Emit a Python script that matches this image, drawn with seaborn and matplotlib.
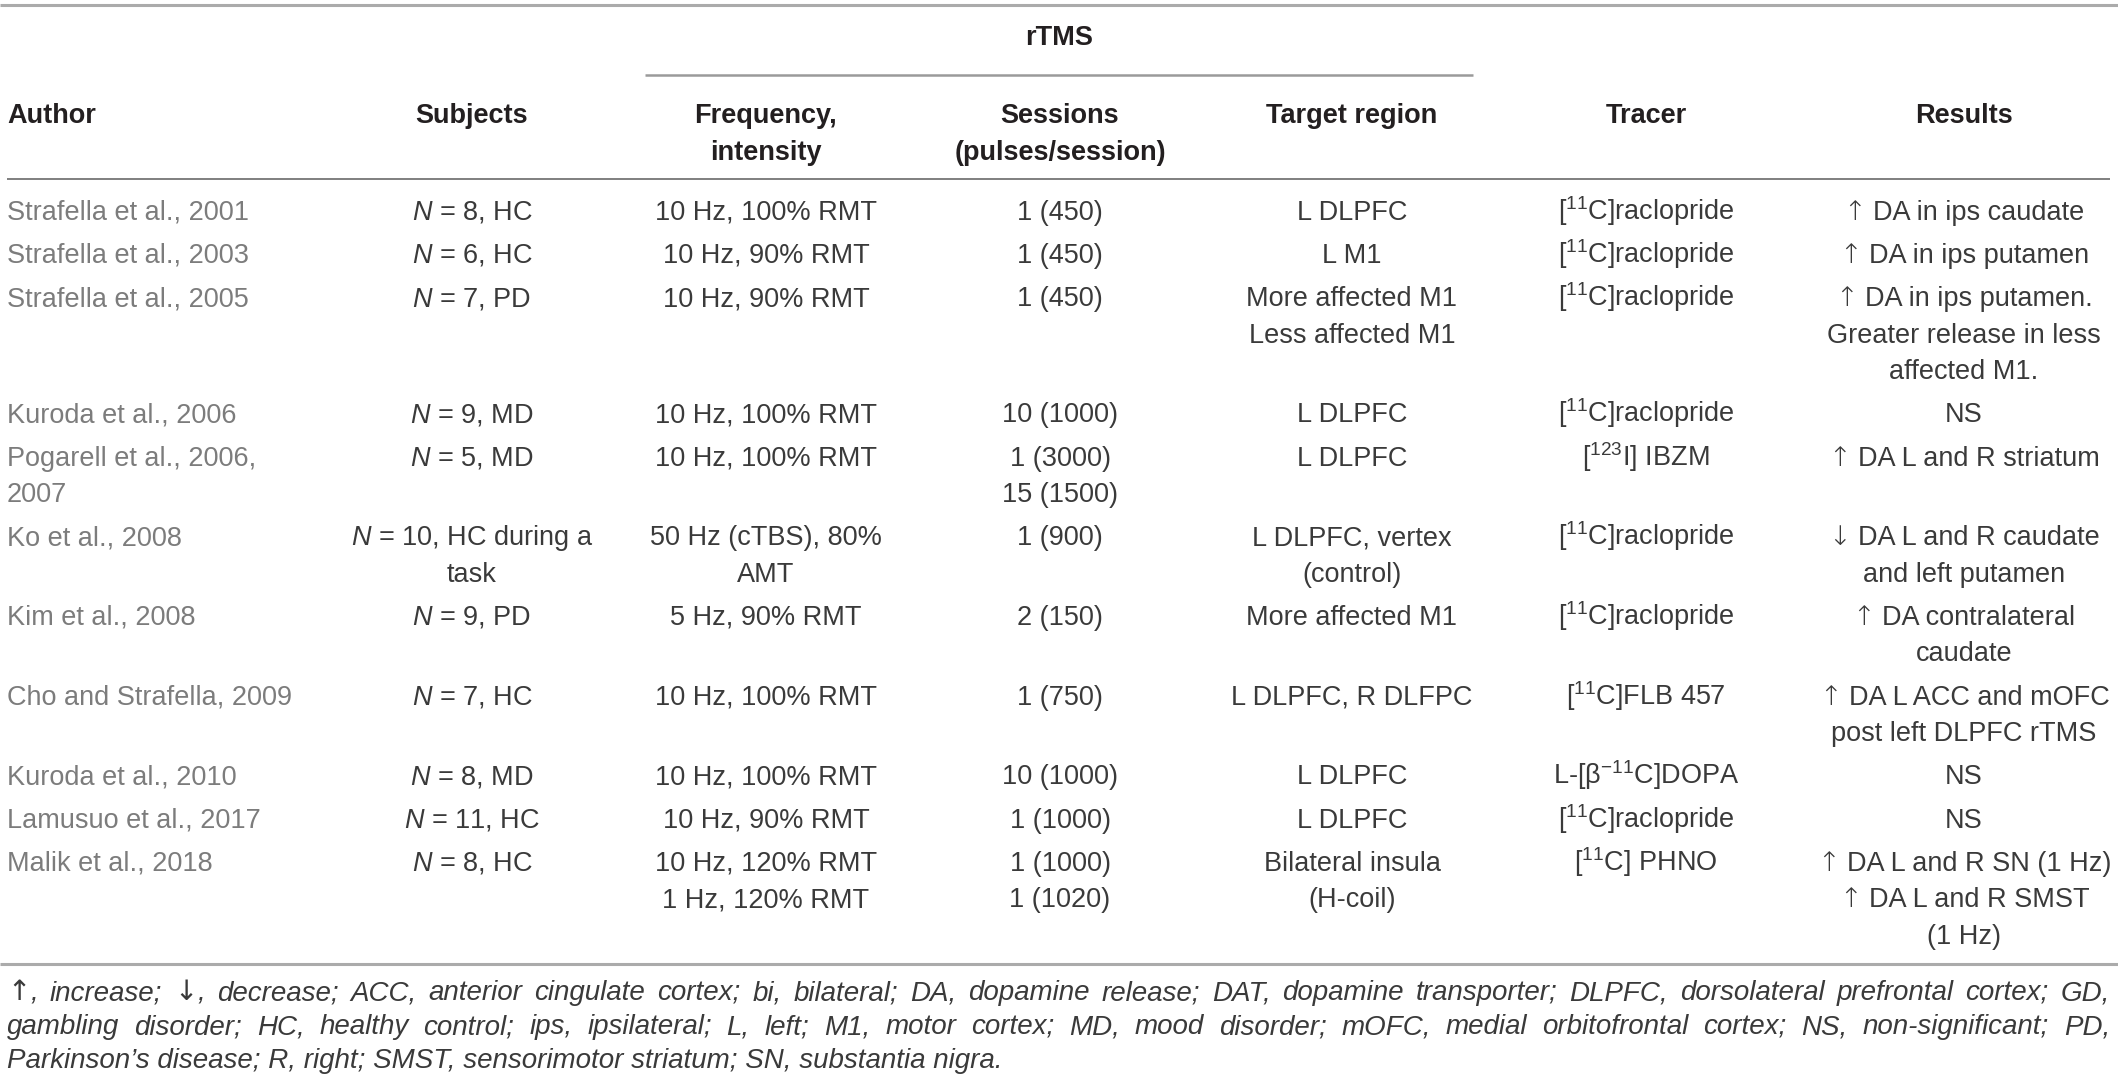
import matplotlib
matplotlib.use('Agg')
import matplotlib.pyplot as plt
import seaborn as sns

# Table content (each cell is a list of lines)
authors = [["Strafella et al., 2001"], ["Strafella et al., 2003"], ["Strafella et al., 2005"],
           ["Kuroda et al., 2006"], ["Pogarell et al., 2006,", "2007"], ["Ko et al., 2008"],
           ["Kim et al., 2008"], ["Cho and Strafella, 2009"], ["Kuroda et al., 2010"],
           ["Lamusuo et al., 2017"], ["Malik et al., 2018"]]
subjects = [[r"$\mathit{N}$ = 8, HC"], [r"$\mathit{N}$ = 6, HC"], [r"$\mathit{N}$ = 7, PD"],
            [r"$\mathit{N}$ = 9, MD"], [r"$\mathit{N}$ = 5, MD"], [r"$\mathit{N}$ = 10, HC during a", "task"],
            [r"$\mathit{N}$ = 9, PD"], [r"$\mathit{N}$ = 7, HC"], [r"$\mathit{N}$ = 8, MD"],
            [r"$\mathit{N}$ = 11, HC"], [r"$\mathit{N}$ = 8, HC"]]
frequency = [["10 Hz, 100% RMT"], ["10 Hz, 90% RMT"], ["10 Hz, 90% RMT"], ["10 Hz, 100% RMT"],
             ["10 Hz, 100% RMT"], ["50 Hz (cTBS), 80%", "AMT"], ["5 Hz, 90% RMT"], ["10 Hz, 100% RMT"],
             ["10 Hz, 100% RMT"], ["10 Hz, 90% RMT"], ["10 Hz, 120% RMT", "1 Hz, 120% RMT"]]
sessions = [["1 (450)"], ["1 (450)"], ["1 (450)"], ["10 (1000)"], ["1 (3000)", "15 (1500)"],
            ["1 (900)"], ["2 (150)"], ["1 (750)"], ["10 (1000)"], ["1 (1000)"], ["1 (1000)", "1 (1020)"]]
target = [["L DLPFC"], ["L M1"], ["More affected M1", "Less affected M1"], ["L DLPFC"], ["L DLPFC"],
          ["L DLPFC, vertex", "(control)"], ["More affected M1"], ["L DLPFC, R DLFPC"], ["L DLPFC"],
          ["L DLPFC"], ["Bilateral insula", "(H-coil)"]]
tracer = [[r"[$^{11}$C]raclopride"], [r"[$^{11}$C]raclopride"], [r"[$^{11}$C]raclopride"],
          [r"[$^{11}$C]raclopride"], [r"[$^{123}$I] IBZM"], [r"[$^{11}$C]raclopride"],
          [r"[$^{11}$C]raclopride"], [r"[$^{11}$C]FLB 457"], [r"L-[β$^{-11}$C]DOPA"],
          [r"[$^{11}$C]raclopride"], [r"[$^{11}$C] PHNO"]]
results = [["↑ DA in ips caudate"], ["↑ DA in ips putamen"],
           ["↑ DA in ips putamen.", "Greater release in less", "affected M1."], ["NS"],
           ["↑ DA L and R striatum"], ["↓ DA L and R caudate", "and left putamen"],
           ["↑ DA contralateral", "caudate"], ["↑ DA L ACC and mOFC", "post left DLPFC rTMS"],
           ["NS"], ["NS"], ["↑ DA L and R SN (1 Hz)", "↑ DA L and R SMST", "(1 Hz)"]]

headers = [["Author"], ["Subjects"], ["Frequency,", "intensity"], ["Sessions", "(pulses/session)"],
           ["Target region"], ["Tracer"], ["Results"]]
group_label = "rTMS"

footnote = ["↑, increase; ↓, decrease; ACC, anterior cingulate cortex; bi, bilateral; DA, dopamine release; "
            "DAT, dopamine transporter; DLPFC, dorsolateral prefrontal cortex; GD,",
            "gambling disorder; HC, healthy control; ips, ipsilateral; L, left; M1, motor cortex; MD, mood "
            "disorder; mOFC, medial orbitofrontal cortex; NS, non-significant; PD,",
            "Parkinson’s disease; R, right; SMST, sensorimotor striatum; SN, substantia nigra."]

columns = [authors, subjects, frequency, sessions, target, tracer, results]

# layout (pixels)
col_x = [7, 472, 766, 1060, 1352, 1646, 1964]
col_ha = ['left'] + ['center'] * 6
line_h = 36.5
row_gap = 43.2
first_row = 210
base_off = 9.7
ARROWS = ('↑', '↓')

sns.set_theme(style='white')
plt.rcParams['font.family'] = ['Liberation Sans', 'DejaVu Sans']
plt.rcParams['mathtext.fontset'] = 'custom'
plt.rcParams['mathtext.rm'] = 'Liberation Sans'
plt.rcParams['mathtext.it'] = 'Liberation Sans:italic'
plt.rcParams['mathtext.bf'] = 'Liberation Sans:bold'
plt.rcParams['mathtext.default'] = 'regular'

fig = plt.figure(figsize=(21.18, 10.83), dpi=100)
ax = fig.add_axes([0, 0, 1, 1])
ax.set_xlim(0, 2118)
ax.set_ylim(1083, 0)
ax.axis('off')
renderer = fig.canvas.get_renderer()

fs = 19.5
body_col = '#3a3a3a'
author_col = '#7c7c7c'


def width(t):
    return t.get_window_extent(renderer).width


def put(x, y, s, ha, **kw):
    # arrows drawn with DejaVu Sans (taller, thinner glyph like the original)
    if s[0] in ARROWS:
        arr = ax.text(0, y, s[0], va='baseline', family='DejaVu Sans',
                      fontsize=kw['fontsize'], color=kw.get('color'), fontweight='light')
        rest = ax.text(0, y, s[1:].lstrip(), va='baseline', **kw)
        gap = 0.0 if s[1] != ' ' else kw['fontsize'] * 0.36
        wa, wr = width(arr), width(rest)
        total = wa + gap + wr
        left = x - total / 2 if ha == 'center' else x
        arr.set_x(left)
        rest.set_x(left + wa + gap)
        return total
    t = ax.text(x, y, s, ha=ha, va='baseline', **kw)
    return width(t)


# rules
ax.hlines(5, 0, 2118, color='#ababab', lw=2.2)
ax.hlines(75, 645, 1473, color='#9a9a9a', lw=1.8)
ax.hlines(179, 7, 2110, color='#6a6a6a', lw=1.2)
ax.hlines(964, 0, 2118, color='#ababab', lw=2.2)

# headers
ax.text(1059, 35 + base_off, group_label, ha='center', va='baseline', fontsize=fs,
        fontweight='bold', color='#231f20')
for x, ha, lines in zip(col_x, col_ha, headers):
    for j, s in enumerate(lines):
        ax.text(x, 113 + j * 37 + base_off, s, ha=ha, va='baseline', fontsize=fs,
                fontweight='bold', color='#231f20')

# body
y = first_row
for i in range(len(authors)):
    n_lines = max(len(col[i]) for col in columns)
    for c, (col, x, ha) in enumerate(zip(columns, col_x, col_ha)):
        for j, s in enumerate(col[i]):
            put(x, y + j * line_h + base_off, s, ha, fontsize=fs,
                color=author_col if c == 0 else body_col)
    y += (n_lines - 1) * line_h + row_gap

# footnote, justified lines
foot_base = [1000, 1034, 1068]
foot_fs = 20
for k, (s, fy) in enumerate(zip(footnote, foot_base)):
    kw = dict(va='baseline', fontsize=foot_fs, style='italic', color=body_col)
    if k == len(footnote) - 1:
        ax.text(7, fy, s, **kw)
        continue
    words = s.split(' ')
    objs = []
    for w in words:
        if w[0] in ARROWS:
            a = ax.text(0, fy, w[0], va='baseline', family='DejaVu Sans',
                        fontsize=foot_fs, color=body_col)
            b = ax.text(0, fy, w[1:], **kw)
            objs.append([a, b])
        else:
            objs.append([ax.text(0, fy, w, **kw)])
    widths = [sum(width(o) for o in grp) for grp in objs]
    gap = (2110 - 7 - sum(widths)) / (len(words) - 1)
    xx = 7
    for grp, w in zip(objs, widths):
        px = xx
        for o in grp:
            o.set_x(px)
            px += width(o)
        xx += w + gap

fig.savefig('out.png', dpi=100)
